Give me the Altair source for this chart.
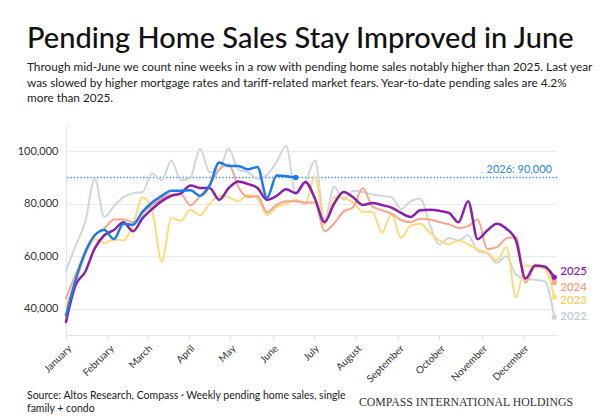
import altair as alt
import pandas as pd

# weekly dates (one point per week)
week_dates = [d.strftime("%Y-%m-%d") for d in pd.date_range("2025-01-01", periods=52, freq="7D")]

v2022 = [54.5, 64, 73, 89.5, 75, 79, 82.5, 84, 84.5, 91.5, 89, 96.5, 89, 90,
         101, 92, 93, 101, 93, 92, 89.5, 91, 96, 102, 84, 88, 96.5, 74, 86.5, 81.5,
         85, 84.5, 83.5, 83, 82.5, 78, 81, 82, 72, 64.5, 67, 66, 68, 62, 61, 57.5,
         60, 53, 51.5, 51, 50.5, 36.8]
v2023 = [41, 50, 60, 66.5, 65, 66.5, 66, 72, 82.5, 77.5, 58, 74.5, 73.5, 77.7,
         75.6, 80, 83, 82.5, 81, 83.3, 82, 75.8, 78.7, 80, 81.5, 80, 90.6, 72, 82.5, 82.2,
         80.4, 77, 77, 69, 76, 67, 71.7, 72.4, 69, 66, 64.5, 66, 64.5, 62.5, 61.5, 58.5,
         63.5, 44.4, 56.5, 56, 55.3, 44.4]
v2024 = [44, 53, 61, 68, 70.5, 74, 74, 73, 76.5, 79.5, 82, 83.5, 83.5, 79.4,
         83, 87, 93, 95, 86.4, 82.6, 83, 76.8, 79.6, 81, 81, 80.4, 80.5, 69.5, 72.5, 77,
         78.7, 86, 79, 77.5, 76.2, 73.8, 73, 74.3, 74, 73, 72.2, 70.8, 71.5, 74, 62.8, 63.5,
         66.8, 67.3, 50, 56, 56.3, 50]
v2025 = [35, 49, 54, 63, 68, 70, 73, 69.5, 74.5, 78, 81, 83, 84, 87,
         86, 86, 81.5, 86, 88.5, 87.5, 86, 81.5, 83, 85.5, 84, 88.3, 82, 73, 80, 84.5,
         82.5, 79.5, 80.3, 79.5, 78.5, 76.5, 75, 77.5, 77.7, 77.3, 76.5, 73, 81, 66.5, 69.8, 72.4,
         70.5, 66, 51.5, 56.5, 56, 52]
v2026 = [37.4, 51, 61.5, 68, 70, 66.5, 72.4, 72, 77, 80.5, 83, 85, 85, 85.1,
         83, 87, 95.7, 94.4, 94.4, 93.1, 94, 82.2, 90.8, 90.5, 90]

years = ["2022", "2023", "2024", "2025", "2026"]
series = {"2022": v2022, "2023": v2023, "2024": v2024, "2025": v2025, "2026": v2026}
line_colors = {"2022": "#cfd7dc", "2023": "#fddb7c", "2024": "#f7a68c", "2025": "#8b1fa9", "2026": "#1b7bea"}
label_colors = {"2022": "#c3ccd2", "2023": "#f8cf5e", "2024": "#f4a084", "2025": "#8b1fa9"}
label_dy = {"2022": 0, "2023": 4, "2024": 5, "2025": -5}
widths = {"2022": 2, "2023": 2, "2024": 2, "2025": 2.5, "2026": 2.5}

target_value = 90000
target_label = "2026: 90,000"

title_text = "Pending Home Sales Stay Improved in June"
subtitle_lines = [
    "Through mid-June we count nine weeks in a row with pending home sales notably higher than 2025. Last year",
    "was slowed by higher mortgage rates and tariff-related market fears. Year-to-date pending sales are 4.2%",
    "more than 2025.",
]
source_text = "Source: Altos Research, Compass · Weekly pending home sales, single\nfamily + condo"
brand_text = "COMPASS INTERNATIONAL HOLDINGS"

FONT = "Lato"

month_ticks = [alt.DateTime(year=2025, month=m, date=1, utc=True) for m in range(1, 13)]

X = alt.X(
    "date:T",
    title=None,
    scale=alt.Scale(
        type="utc",
        domain=[alt.DateTime(year=2025, month=1, date=1, utc=True),
                alt.DateTime(year=2025, month=12, date=26, utc=True)],
    ),
    axis=alt.Axis(values=month_ticks, labelExpr="utcFormat(datum.value, '%B')", labelAngle=-45,
                  grid=False, ticks=True, tickSize=4, labelFontSize=10, labelPadding=4),
)
Y = alt.Y(
    "value:Q",
    title=None,
    scale=alt.Scale(domain=[30000, 110000], nice=False, zero=False),
    axis=alt.Axis(values=[40000, 60000, 80000, 100000], format=",d", grid=True,
                  ticks=False, labelPadding=8, labelFontSize=11),
)

layers = []

# target rule
layers.append(
    alt.Chart(pd.DataFrame({"value": [target_value]}))
    .mark_rule(strokeWidth=1.3, strokeCap="butt")
    .encode(y=Y, color=alt.value("#2f88ee"), strokeDash=alt.value([1.3, 2]))
)
layers.append(
    alt.Chart(pd.DataFrame({"value": [target_value], "t": [target_label]}))
    .mark_text(align="right", baseline="bottom", dy=-3, color="#3d8ee6", fontSize=11,
               fontWeight=500, font=FONT)
    .encode(x=alt.value(486), y=Y, text="t:N")
)

for yr in years:
    vals = series[yr]
    df = pd.DataFrame({"date": week_dates[: len(vals)], "value": [v * 1000 for v in vals]})
    c = line_colors[yr]
    layers.append(
        alt.Chart(df).mark_line(interpolate="monotone", strokeWidth=widths[yr], color=c,
                                strokeCap="round", strokeJoin="round")
        .encode(x=X, y=Y)
    )
    last = df.tail(1).assign(label=yr)
    layers.append(
        alt.Chart(last).mark_point(filled=True, size=28, color=c, opacity=1).encode(x=X, y=Y)
    )
    if yr in label_colors:
        layers.append(
            alt.Chart(last).mark_text(align="left", baseline="middle", dx=6, dy=label_dy[yr],
                                      color=label_colors[yr], fontSize=11.5, fontWeight=600, font=FONT)
            .encode(x=X, y=Y, text="label:N")
        )

# footer texts
layers.append(
    alt.Chart(pd.DataFrame({"t": [source_text]}))
    .mark_text(align="left", baseline="alphabetic", lineBreak="\n", lineHeight=13,
               fontSize=10.5, font=FONT, color="#222")
    .encode(x=alt.value(-39), y=alt.value(274), text="t:N")
)
layers.append(
    alt.Chart(pd.DataFrame({"t": [brand_text]}))
    .mark_text(align="right", baseline="alphabetic", fontSize=11.8, font="Liberation Serif",
               color="#333")
    .encode(x=alt.value(507), y=alt.value(281), text="t:N")
)

chart = (
    alt.layer(*layers)
    .properties(
        width=491,
        height=210,
        autosize=alt.AutoSizeParams(type="none"),
        padding={"left": 66, "top": 125, "right": 43, "bottom": 85},
        title=alt.TitleParams(
            text=title_text,
            subtitle=subtitle_lines,
            anchor="start",
            frame="group",
            dx=-39,
            font=FONT,
            fontSize=29,
            fontWeight=500,
            color="#111",
            subtitleFont=FONT,
            subtitleFontSize=11.8,
            subtitleColor="#222",
            subtitleLineHeight=15.5,
            subtitlePadding=8,
            offset=20,
        ),
    )
    .configure_view(stroke=None)
    .configure_axis(domainColor="#e4e4e4", gridColor="#ececec", tickColor="#dddddd",
                    labelColor="#333", labelFont=FONT)
)

chart.save("out.html", embed_options={"renderer": "svg", "actions": False})
